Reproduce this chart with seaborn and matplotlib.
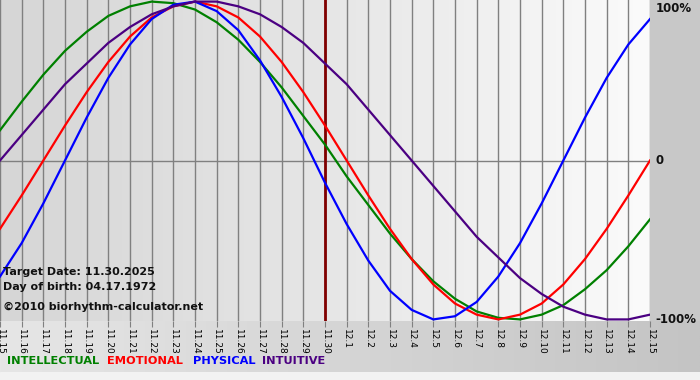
import numpy as np
import pandas as pd
import matplotlib
matplotlib.use("Agg")
import matplotlib.pyplot as plt
from matplotlib.colors import LinearSegmentedColormap
import seaborn as sns

# chart data
dates = ["11.15", "11.16", "11.17", "11.18", "11.19", "11.20", "11.21", "11.22",
         "11.23", "11.24", "11.25", "11.26", "11.27", "11.28", "11.29", "11.30",
         "12.1", "12.2", "12.3", "12.4", "12.5", "12.6", "12.7", "12.8",
         "12.9", "12.10", "12.11", "12.12", "12.13", "12.14", "12.15"]
intellectual = [0.19, 0.37, 0.54, 0.69, 0.81, 0.91, 0.97, 1.00, 0.99, 0.95, 0.87,
                0.76, 0.62, 0.46, 0.28, 0.10, -0.10, -0.28, -0.46, -0.62, -0.76,
                -0.87, -0.95, -0.99, -1.00, -0.97, -0.91, -0.81, -0.69, -0.54, -0.37]
emotional = [-0.43, -0.22, 0.00, 0.22, 0.43, 0.62, 0.78, 0.90, 0.97, 1.00, 0.97,
             0.90, 0.78, 0.62, 0.43, 0.22, 0.00, -0.22, -0.43, -0.62, -0.78,
             -0.90, -0.97, -1.00, -0.97, -0.90, -0.78, -0.62, -0.43, -0.22, 0.00]
physical = [-0.73, -0.52, -0.27, 0.00, 0.27, 0.52, 0.73, 0.89, 0.98, 1.00, 0.94,
            0.82, 0.63, 0.40, 0.14, -0.14, -0.40, -0.63, -0.82, -0.94, -1.00,
            -0.98, -0.89, -0.73, -0.52, -0.27, 0.00, 0.27, 0.52, 0.73, 0.89]
intuitive = [0.00, 0.16, 0.32, 0.48, 0.61, 0.74, 0.84, 0.92, 0.97, 1.00, 1.00,
             0.97, 0.92, 0.84, 0.74, 0.61, 0.48, 0.32, 0.16, 0.00, -0.16,
             -0.32, -0.48, -0.61, -0.74, -0.84, -0.92, -0.97, -1.00, -1.00, -0.97]
series_names = ["INTELLECTUAL", "EMOTIONAL", "PHYSICAL", "INTUITIVE"]
target_date = "11.30"
birth_date = "04.17.1972"
target_full = "11.30.2025"

colors = {"INTELLECTUAL": "#008000", "EMOTIONAL": "#ff0000",
          "PHYSICAL": "#0000ff", "INTUITIVE": "#4b0082"}

# long-form table for seaborn
day = np.arange(len(dates))
df = pd.DataFrame({"day": day, "INTELLECTUAL": intellectual, "EMOTIONAL": emotional,
                   "PHYSICAL": physical, "INTUITIVE": intuitive})
df = df.melt(id_vars="day", var_name="rhythm", value_name="value")

fig = plt.figure(figsize=(7, 3.8), dpi=100)
fig.patch.set_facecolor("#c8c8c8")

# bottom band gradient behind tick labels / legend
bg = fig.add_axes([0, 8 / 380, 1, 51 / 380])
bg.imshow(np.linspace(0, 1, 256).reshape(1, -1), aspect="auto",
          cmap=LinearSegmentedColormap.from_list("bb", ["#e6e6e6", "#c4c4c4"]),
          extent=[0, 1, 0, 1])
bg.axis("off")
wb = fig.add_axes([0, 0, 1, 8 / 380])
wb.axis("off")
wb.add_patch(plt.Rectangle((0, 0), 1, 1, color="#f2f2f2", transform=wb.transAxes))

ax = fig.add_axes([0, 59 / 380, 650 / 700, 321 / 380])
ax.imshow(np.linspace(0, 1, 256).reshape(1, -1), aspect="auto",
          cmap=LinearSegmentedColormap.from_list("pa", ["#d6d6d6", "#e6e6e6", "#fbfbfb"]),
          extent=[0, len(dates) - 1, -1.01, 1.01], zorder=0)

# day grid lines and zero line
for d in day:
    ax.axvline(d, color="#808080", lw=1, zorder=1)
ax.axhline(0, color="#808080", lw=1, zorder=1)
ax.axvline(dates.index(target_date), color="#800000", lw=2, zorder=2)

sns.lineplot(data=df, x="day", y="value", hue="rhythm", hue_order=series_names,
             palette=colors, linewidth=1.6, legend=False, ax=ax, zorder=3)

ax.set_xlim(0, len(dates) - 1)
ax.set_ylim(-1.01, 1.01)
for s in ax.spines.values():
    s.set_visible(False)
ax.set_xticks(day)
ax.set_xticklabels(dates, rotation=270, fontsize=6.5, color="#000000")
ax.tick_params(axis="x", length=4, color="#808080", pad=2)
ax.set_yticks([])
ax.set_xlabel("")
ax.set_ylabel("")

# right side percent labels
for val, lab in [(1.0, "100%"), (0.0, "0"), (-1.0, "-100%")]:
    va = "top" if val == 1.0 else "center"
    ax.annotate(lab, xy=(1, val), xycoords=("axes fraction", "data"),
                xytext=(4, 0), textcoords="offset points", ha="left", va=va,
                fontsize=8.5, fontweight="bold", color="#111111", annotation_clip=False)

# info text
info = [("Target Date: " + target_full, 272), ("Day of birth: " + birth_date, 287),
        ("\u00a92010 biorhythm-calculator.net", 307)]
for txt, ypx in info:
    fig.text(3 / 700, 1 - ypx / 380, txt, fontsize=8, fontweight="bold",
             color="#111111", ha="left", va="center")

# legend row
leg_x = [7, 107, 193, 262]
for name, xpx in zip(series_names, leg_x):
    fig.text(xpx / 700, 1 - 361 / 380, name, fontsize=8.2, fontweight="bold",
             color=colors[name], ha="left", va="center")

fig.savefig("out.png", dpi=100, facecolor=fig.get_facecolor())
